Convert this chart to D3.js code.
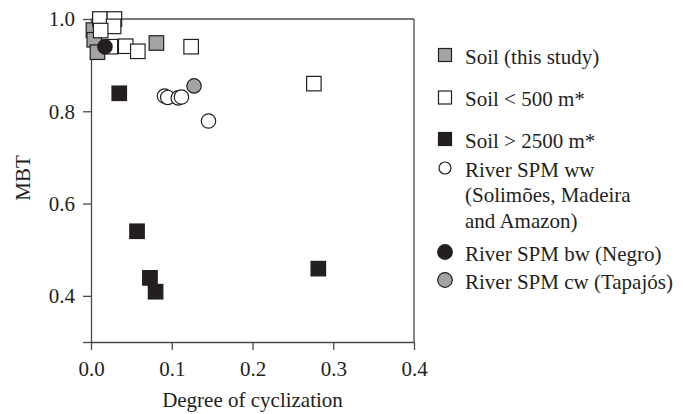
<!DOCTYPE html>
<html>
<head>
<meta charset="utf-8">
<script src="https://cdn.jsdelivr.net/npm/d3@7/dist/d3.min.js"></script>
<style>
  html, body { margin: 0; padding: 0; background: #fff; }
  svg { display: block; }
  text { font-family: "Liberation Serif", "Times New Roman", serif; fill: #231f20; }
</style>
</head>
<body>
<svg id="chart" width="683" height="414"></svg>
<script>
// ---- data (Degree of cyclization, MBT) ----
const soilThisStudy = [[0.003, 0.976], [0.004, 0.955], [0.008, 0.928], [0.081, 0.948]];
const soilLow = [[0.011, 1.0], [0.029, 1.0], [0.028, 0.984], [0.012, 0.975], [0.024, 0.94],
                 [0.043, 0.941], [0.058, 0.93], [0.124, 0.94], [0.276, 0.86]];
const soilHigh = [[0.035, 0.839], [0.057, 0.540], [0.073, 0.439], [0.080, 0.409], [0.2815, 0.459]];
const riverWW = [[0.091, 0.833], [0.095, 0.830], [0.108, 0.829], [0.112, 0.831], [0.1455, 0.779]];
const riverBW = [[0.0173, 0.94]];
const riverCW = [[0.1276, 0.855]];
const xTicks = [0, 0.1, 0.2, 0.3, 0.4];
const yTicks = [0.3, 0.4, 0.6, 0.8, 1.0];
const legendLabels = [
  ["Soil (this study)"],
  ["Soil < 500 m*"],
  ["Soil > 2500 m*"],
  ["River SPM ww", "(Solimões, Madeira", "and Amazon)"],
  ["River SPM bw (Negro)"],
  ["River SPM cw (Tapajós)"]
];

// ---- drawing ----
const svg = d3.select("#chart");
const FS = 21;
const axisColor = "#4a4a4a";
const grey = "#a3a3a3", black = "#231f20";

const x = d3.scaleLinear().domain([0, 0.4]).range([91, 414]);
const y = d3.scaleLinear().domain([0.3, 1.0]).range([342, 19]);

// frame (top, right)
svg.append("line").attr("x1", x(0)).attr("x2", x(0.4)).attr("y1", y(1)).attr("y2", y(1))
  .attr("stroke", axisColor).attr("stroke-width", 1.3);
svg.append("line").attr("x1", x(0.4)).attr("x2", x(0.4)).attr("y1", y(1)).attr("y2", y(0.3))
  .attr("stroke", axisColor).attr("stroke-width", 1.3);

const xAxis = svg.append("g").attr("transform", `translate(0,${y(0.3)})`)
  .call(d3.axisBottom(x).tickValues(xTicks).tickSize(8).tickSizeOuter(0).tickPadding(11)
    .tickFormat(d3.format(".1f")));
const yAxis = svg.append("g").attr("transform", `translate(${x(0)},0)`)
  .call(d3.axisLeft(y).tickValues(yTicks).tickSize(8).tickSizeOuter(0).tickPadding(8)
    .tickFormat(d => Math.abs(d - 0.3) < 1e-9 ? "" : d3.format(".1f")(d)));
[xAxis, yAxis].forEach(g => {
  g.selectAll("path, line").attr("stroke", axisColor).attr("stroke-width", 1.3);
  g.selectAll("text").attr("font-size", FS).attr("font-family", "Liberation Serif, serif").attr("fill", "#231f20");
});

svg.append("text").attr("x", (x(0) + x(0.4)) / 2).attr("y", 407)
  .attr("text-anchor", "middle").attr("font-size", FS).text("Degree of cyclization");
svg.append("text").attr("transform", "translate(30,178) rotate(-90)")
  .attr("text-anchor", "middle").attr("font-size", FS).text("MBT");

const SQ = 14.5, R = 7.2;
function squares(data, fill) {
  svg.append("g").selectAll("rect").data(data).join("rect")
    .attr("x", d => x(d[0]) - SQ / 2).attr("y", d => y(d[1]) - SQ / 2)
    .attr("width", SQ).attr("height", SQ)
    .attr("fill", fill).attr("stroke", "#231f20").attr("stroke-width", 1.2);
}
function circles(data, fill) {
  svg.append("g").selectAll("circle").data(data).join("circle")
    .attr("cx", d => x(d[0])).attr("cy", d => y(d[1])).attr("r", R)
    .attr("fill", fill).attr("stroke", "#231f20").attr("stroke-width", 1.2);
}
squares(soilThisStudy, grey);
squares(soilLow, "#fff");
squares(soilHigh, black);
circles(riverWW, "#fff");
circles(riverCW, grey);
circles(riverBW, black);

// legend
const markerX = 445, textX = 465;
const legendY = [55, 97.5, 139, 168, 252, 280];
const legendFill = [grey, "#fff", black, "#fff", black, grey];
const legendShape = ["sq", "sq", "sq", "ci", "ci", "ci"];
const legendR = [0, 0, 0, 6, 7.3, 7.3];
const lg = svg.append("g");
legendLabels.forEach((lines, i) => {
  const cy = legendY[i];
  if (legendShape[i] === "sq") {
    lg.append("rect").attr("x", markerX - 6.5).attr("y", cy - 6.5).attr("width", 13).attr("height", 13)
      .attr("fill", legendFill[i]).attr("stroke", "#231f20").attr("stroke-width", 1.2);
  } else {
    lg.append("circle").attr("cx", markerX).attr("cy", cy).attr("r", legendR[i])
      .attr("fill", legendFill[i]).attr("stroke", "#231f20").attr("stroke-width", 1.2);
  }
  lines.forEach((t, j) => {
    lg.append("text").attr("x", textX).attr("y", cy + 8.5 + j * 25.5)
      .attr("font-size", FS).text(t);
  });
});
</script>
</body>
</html>
